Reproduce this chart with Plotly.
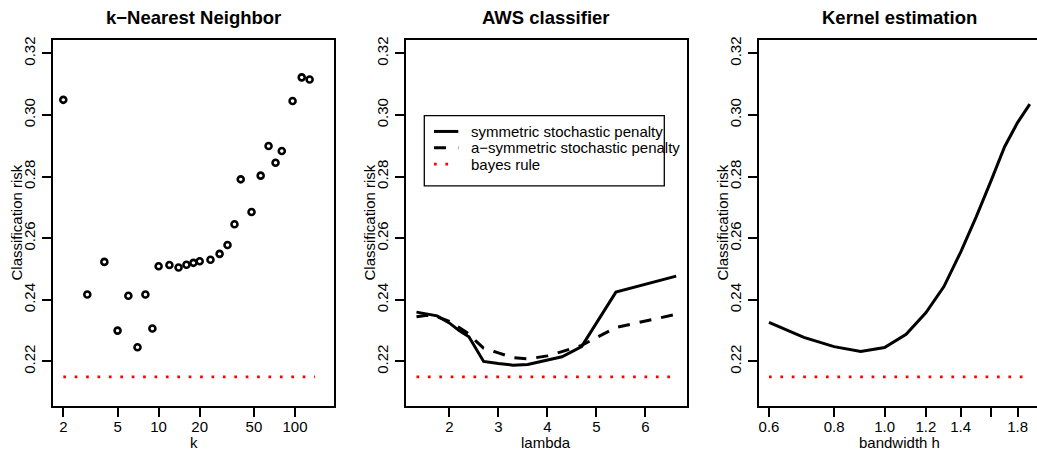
import plotly.graph_objects as go

# ---------------- data ----------------
knn_k = [2, 3, 4, 5, 6, 7, 8, 9, 10, 12, 14, 16, 18, 20, 24, 28, 32, 36, 40,
         48, 56, 64, 72, 80, 96, 112, 128]
knn_risk = [0.3049, 0.2417, 0.2523, 0.2300, 0.2413, 0.2246, 0.2417, 0.2307,
            0.2509, 0.2513, 0.2505, 0.2514, 0.2520, 0.2525, 0.2530, 0.2549,
            0.2578, 0.2645, 0.2791, 0.2685, 0.2803, 0.2899, 0.2845, 0.2883,
            0.3045, 0.3122, 0.3115]

aws_lambda = [1.33, 1.55, 1.75, 2.0, 2.2, 2.4, 2.55, 2.7, 3.0, 3.3, 3.6, 4.0,
              4.3, 4.7, 5.4, 6.63]
aws_sym = [0.2360, 0.2354, 0.2348, 0.2325, 0.2300, 0.2280, 0.2240, 0.2200,
           0.2193, 0.2188, 0.2190, 0.2205, 0.2215, 0.2248, 0.2425, 0.2477]
aws_asym = [0.2345, 0.2350, 0.2345, 0.2330, 0.2310, 0.2290, 0.2265, 0.2243,
            0.2228, 0.2212, 0.2208, 0.2218, 0.2232, 0.2252, 0.2310, 0.2353]

kern_h = [0.6, 0.7, 0.8, 0.9, 1.0, 1.1, 1.2, 1.3, 1.4, 1.5, 1.6, 1.7, 1.8, 1.9]
kern_risk = [0.2327, 0.2278, 0.2248, 0.2232, 0.2245, 0.2288, 0.2358, 0.2443,
             0.2555, 0.2670, 0.2785, 0.2897, 0.2975, 0.3035]

bayes_risk = 0.215
bayes_knn_x = [2, 140]
bayes_aws_x = [1.33, 6.63]
bayes_kern_x = [0.6, 1.9]

y_ticks = [0.22, 0.24, 0.26, 0.28, 0.30, 0.32]
y_ticktext = ["0.22", "0.24", "0.26", "0.28", "0.30", "0.32"]
knn_ticks = [2, 5, 10, 20, 50, 100]
knn_ticktext = ["2", "5", "10", "20", "50", "100"]
aws_ticks = [2, 3, 4, 5, 6]
aws_ticktext = ["2", "3", "4", "5", "6"]
kern_ticks = [0.6, 0.8, 1.0, 1.2, 1.4, 1.6, 1.8]
kern_ticktext = ["0.6", "0.8", "1.0", "1.2", "1.4", "", "1.8"]

titles = ["k\u2212Nearest Neighbor", "AWS classifier", "Kernel estimation"]
xlabels = ["k", "lambda", "bandwidth h"]
ylabel = "Classification risk"
legend_labels = ["symmetric stochastic penalty",
                 "a\u2212symmetric stochastic penalty",
                 "bayes rule"]

# ---------------- layout helpers ----------------
W, H = 1037, 452
FONT = "Liberation Sans, Arial, Helvetica, sans-serif"


def fx(p):
    return p / W


def fy(p):
    return 1 - p / H


panels_px = [(53, 334), (406, 686.7), (759, 1037)]
box_centers = [193.5, 546.3, 899.7]
ytop, ybot = 37, 405.5
yrange = [0.2056, 0.3244]

fig = go.Figure()

dot_line = dict(color="red", width=2.7, dash="2.7px,8.7px")
black = "black"

# panel 1
fig.add_trace(go.Scatter(x=knn_k, y=knn_risk, mode="markers",
                         marker=dict(symbol="circle-open", size=6,
                                     line=dict(width=2.6, color=black), color=black),
                         xaxis="x", yaxis="y", showlegend=False))
fig.add_trace(go.Scatter(x=bayes_knn_x, y=[bayes_risk] * 2, mode="lines",
                         line=dot_line, xaxis="x", yaxis="y", showlegend=False))
# panel 2
fig.add_trace(go.Scatter(x=aws_lambda, y=aws_sym, mode="lines",
                         line=dict(color=black, width=3),
                         xaxis="x2", yaxis="y2", showlegend=False))
fig.add_trace(go.Scatter(x=aws_lambda, y=aws_asym, mode="lines",
                         line=dict(color=black, width=3, dash="12px,10px"),
                         xaxis="x2", yaxis="y2", showlegend=False))
fig.add_trace(go.Scatter(x=bayes_aws_x, y=[bayes_risk] * 2, mode="lines",
                         line=dot_line, xaxis="x2", yaxis="y2", showlegend=False))
# panel 3
fig.add_trace(go.Scatter(x=kern_h, y=kern_risk, mode="lines",
                         line=dict(color=black, width=3),
                         xaxis="x3", yaxis="y3", showlegend=False))
fig.add_trace(go.Scatter(x=bayes_kern_x, y=[bayes_risk] * 2, mode="lines",
                         line=dot_line, xaxis="x3", yaxis="y3", showlegend=False))

axis_common = dict(showgrid=False, zeroline=False, showline=True, linecolor=black,
                   linewidth=1.6, ticks="outside", ticklen=9, tickwidth=1.5,
                   tickcolor=black, tickfont=dict(family=FONT, size=15, color=black))

xranges = [[0.2255, 2.286], [1.116, 6.845], [-0.2410, 0.2926]]
xtypes = ["log", "linear", "log"]
xtickv = [knn_ticks, aws_ticks, kern_ticks]
xtickt = [knn_ticktext, aws_ticktext, kern_ticktext]

layout = dict(width=W, height=H, margin=dict(l=0, r=0, t=0, b=0),
              paper_bgcolor="white", plot_bgcolor="white",
              font=dict(family=FONT, color=black))
for i in range(3):
    sx = "" if i == 0 else str(i + 1)
    x0, x1 = panels_px[i]
    layout["xaxis" + sx] = dict(axis_common, domain=[fx(x0), fx(x1)],
                                anchor="y" + sx, type=xtypes[i], range=xranges[i],
                                tickmode="array", tickvals=xtickv[i],
                                ticktext=xtickt[i], mirror=True, ticklabelstandoff=-3)
    layout["yaxis" + sx] = dict(axis_common, domain=[fy(ybot), fy(ytop)],
                                anchor="x" + sx, range=yrange, tickmode="array",
                                tickvals=y_ticks, ticktext=y_ticktext,
                                tickangle=-90, mirror=(i < 2), ticklabelstandoff=1)
fig.update_layout(**layout)

# titles and axis labels
for i in range(3):
    fig.add_annotation(x=fx(box_centers[i]), y=fy(15), xref="paper", yref="paper",
                       text="<b>%s</b>" % titles[i], showarrow=False,
                       font=dict(family=FONT, size=18.5, color=black),
                       xanchor="center", yanchor="middle")
    fig.add_annotation(x=fx(box_centers[i]), y=fy(442), xref="paper", yref="paper",
                       text=xlabels[i], showarrow=False,
                       font=dict(family=FONT, size=15, color=black),
                       xanchor="center", yanchor="middle")
ylab_x = [17, 370, 723]
for i in range(3):
    fig.add_annotation(x=fx(ylab_x[i]), y=fy(221), xref="paper", yref="paper",
                       text=ylabel, showarrow=False, textangle=-90,
                       font=dict(family=FONT, size=15, color=black),
                       xanchor="center", yanchor="middle")

# legend in panel 2
fig.add_shape(type="rect", xref="paper", yref="paper",
              x0=fx(424.3), x1=fx(664.3), y0=fy(113.3), y1=fy(184),
              line=dict(color=black, width=1.3), fillcolor="rgba(0,0,0,0)")
row_y = [129.3, 145.7, 162.3]
sample_styles = [dict(color=black, width=3),
                 dict(color=black, width=3, dash="12px,12px"),
                 dict(color="red", width=2.7, dash="2.7px,8.7px")]
sample_end = [458.3, 458.3, 450]
for j in range(3):
    fig.add_shape(type="line", xref="paper", yref="paper",
                  x0=fx(434), x1=fx(sample_end[j]), y0=fy(row_y[j]), y1=fy(row_y[j]),
                  line=sample_styles[j])
    fig.add_annotation(x=fx(469.3), y=fy(row_y[j]), xref="paper", yref="paper",
                       text=legend_labels[j], showarrow=False,
                       font=dict(family=FONT, size=15, color=black),
                       xanchor="left", yanchor="middle")

fig.write_html("out.html")
